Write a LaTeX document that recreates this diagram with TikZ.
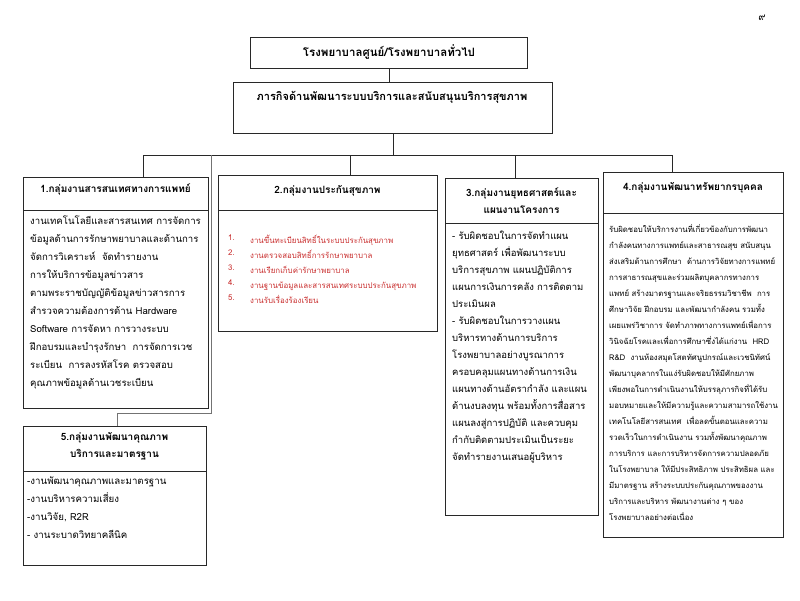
\documentclass[tikz,border=0pt]{standalone}
\usepackage{fontspec}
\setmainfont[Script=Thai]{Loma}
\definecolor{itemred}{RGB}{200,45,45}
\definecolor{edge}{RGB}{40,40,40}
\tikzset{
  box/.style={draw=edge, line width=0.8pt, inner sep=0pt, anchor=north west},
  conn/.style={draw=edge, line width=0.8pt},
  txt/.style={inner sep=0pt, anchor=north west, align=left},
  head/.style={inner sep=0pt, align=center, font=\bfseries\fontsize{10}{17}\selectfont},
}
\begin{document}
\begin{tikzpicture}[x=1pt,y=-1pt]
\useasboundingbox (0,0) rectangle (800,600);
% page number
\node[inner sep=0pt, font=\fontsize{10}{12}\selectfont] (pg) at (762,18) {๙};
% top boxes
\node[box, minimum width=277pt, minimum height=31pt] (t) at (250,37) {};
\node[head, font=\bfseries\fontsize{11.5}{13}\selectfont] (tt) at (389,52) {โรงพยาบาลศูนย์/โรงพยาบาลทั่วไป};
\node[box, minimum width=319pt, minimum height=51pt] (m) at (233,82) {};
\node[head, font=\bfseries\fontsize{11}{13}\selectfont] (mt) at (392,97) {ภารกิจด้านพัฒนาระบบบริการและสนับสนุนบริการสุขภาพ};
% group boxes
\node[box, minimum width=185pt, minimum height=33pt] (h1) at (23,177) {};
\node[box, minimum width=185pt, minimum height=198pt] (b1) at (23,210) {};
\node[box, minimum width=219pt, minimum height=35pt] (h2) at (218,175) {};
\node[box, minimum width=219pt, minimum height=121pt] (b2) at (218,210) {};
\node[box, minimum width=153pt, minimum height=45pt] (h3) at (445,178) {};
\node[box, minimum width=153pt, minimum height=292pt] (b3) at (445,223) {};
\node[box, minimum width=180pt, minimum height=41pt] (h4) at (603,172) {};
\node[box, minimum width=180pt, minimum height=324pt] (b4) at (603,213) {};
\node[box, minimum width=183pt, minimum height=45pt] (h5) at (23,426) {};
\node[box, minimum width=183pt, minimum height=94pt] (b5) at (23,471) {};
% headers
\node[head] (ht1) at (115.5,189) {1.กลุ่มงานสารสนเทศทางการแพทย์};
\node[head] (ht2) at (327.5,191) {2.กลุ่มงานประกันสุขภาพ};
\node[head] (ht3) at (521.5,201) {3.กลุ่มงานยุทธศาสตร์และ\\แผนงานโครงการ};
\node[head] (ht4) at (693,188) {4.กลุ่มงานพัฒนาทรัพยากรบุคคล};
\node[head] (ht5) at (114.5,446) {5.กลุ่มงานพัฒนาคุณภาพ\\บริการและมาตรฐาน};
% bodies
\node[txt, font=\fontsize{9.6}{18}\selectfont] (bt1) at (30,216) {งานเทคโนโลยีและสารสนเทศ การจัดการ\\
ข้อมูลด้านการรักษาพยาบาลและด้านการ\\
จัดการวิเคราะห์\ \ จัดทำรายงาน\\
การให้บริการข้อมูลข่าวสาร\\
ตามพระราชบัญญัติข้อมูลข่าวสารการ\\
สำรวจความต้องการด้าน Hardware\\
Software การจัดหา การวางระบบ\\
ฝึกอบรมและบำรุงรักษา\ \ การจัดการเวช\\
ระเบียน\ \ การลงรหัสโรค ตรวจสอบ\\
คุณภาพข้อมูลด้านเวชระเบียน};
\node[txt, text=itemred, font=\fontsize{7.9}{15}\selectfont] (bn2) at (228,235) {1.\\2.\\3.\\4.\\5.};
\node[txt, text=itemred, font=\fontsize{7.9}{15}\selectfont] (bt2) at (250,235) {งานขึ้นทะเบียนสิทธิ์ในระบบประกันสุขภาพ\\
งานตรวจสอบสิทธิ์การรักษาพยาบาล\\
งานเรียกเก็บค่ารักษาพยาบาล\\
งานฐานข้อมูลและสารสนเทศระบบประกันสุขภาพ\\
งานรับเรื่องร้องเรียน};
\node[txt, font=\fontsize{9.5}{17}\selectfont] (bt3) at (452,231) {- รับผิดชอบในการจัดทำแผน\\
ยุทธศาสตร์ เพื่อพัฒนาระบบ\\
บริการสุขภาพ แผนปฏิบัติการ\\
แผนการเงินการคลัง การติดตาม\\
ประเมินผล\\
- รับผิดชอบในการวางแผน\\
บริหารทางด้านการบริการ\\
โรงพยาบาลอย่างบูรณาการ\\
ครอบคลุมแผนทางด้านการเงิน\\
แผนทางด้านอัตรากำลัง และแผน\\
ด้านงบลงทุน พร้อมทั้งการสื่อสาร\\
แผนลงสู่การปฏิบัติ และควบคุม\\
กำกับติดตามประเมินเป็นระยะ\\
จัดทำรายงานเสนอผู้บริหาร};
\node[txt, font=\fontsize{7.8}{16}\selectfont] (bt4) at (609,224) {รับผิดชอบให้บริการงานที่เกี่ยวข้องกับการพัฒนา\\
กำลังคนทางการแพทย์และสาธารณสุข สนับสนุน\\
ส่งเสริมด้านการศึกษา\ \ ด้านการวิจัยทางการแพทย์\\
การสาธารณสุขและร่วมผลิตบุคลากรทางการ\\
แพทย์ สร้างมาตรฐานและจริยธรรมวิชาชีพ\ \ การ\\
ศึกษาวิจัย ฝึกอบรม และพัฒนากำลังคน รวมทั้ง\\
เผยแพร่วิชาการ จัดทำภาพทางการแพทย์เพื่อการ\\
วินิจฉัยโรคและเพื่อการศึกษาซึ่งได้แก่งาน\ \ HRD\\
R\&D\ \ งานห้องสมุดโสตทัศนูปกรณ์และเวชนิทัศน์\\
พัฒนาบุคลากรในแง่รับผิดชอบให้มีศักยภาพ\\
เพียงพอในการดำเนินงานให้บรรลุภารกิจที่ได้รับ\\
มอบหมายและให้มีความรู้และความสามารถใช้งาน\\
เทคโนโลยีสารสนเทศ\ \ เพื่อลดขั้นตอนและความ\\
รวดเร็วในการดำเนินงาน รวมทั้งพัฒนาคุณภาพ\\
การบริการ และการบริหารจัดการความปลอดภัย\\
ในโรงพยาบาล ให้มีประสิทธิภาพ ประสิทธิผล และ\\
มีมาตรฐาน สร้างระบบประกันคุณภาพของงาน\\
บริการและบริหาร พัฒนางานต่าง ๆ ของ\\
โรงพยาบาลอย่างต่อเนื่อง};
\node[txt, font=\fontsize{9.7}{18}\selectfont] (bt5) at (27,477) {-งานพัฒนาคุณภาพและมาตรฐาน\\
-งานบริหารความเสี่ยง\\
-งานวิจัย, R2R\\
- งานระบาดวิทยาคลีนิค};
% connectors
\coordinate (bl) at (143,155);
\coordinate (br) at (672,155);
\coordinate (d2) at (350,155);
\coordinate (d3) at (515,155);
\coordinate (d5) at (211,155);
\coordinate (k5) at (117,413);
\draw[conn] (t.south) -- (t.south |- m.north);
\draw[conn] (m.south) -- (m.south |- bl);
\draw[conn] (bl) -- (br);
\draw[conn] (bl) -- (bl |- h1.north);
\draw[conn] (d2) -- (d2 |- h2.north);
\draw[conn] (d3) -- (d3 |- h3.north);
\draw[conn] (br) -- (br |- h4.north);
\draw[conn, draw=black!55] (d5) |- (k5) -- (k5 |- h5.north);
\end{tikzpicture}
\end{document}
